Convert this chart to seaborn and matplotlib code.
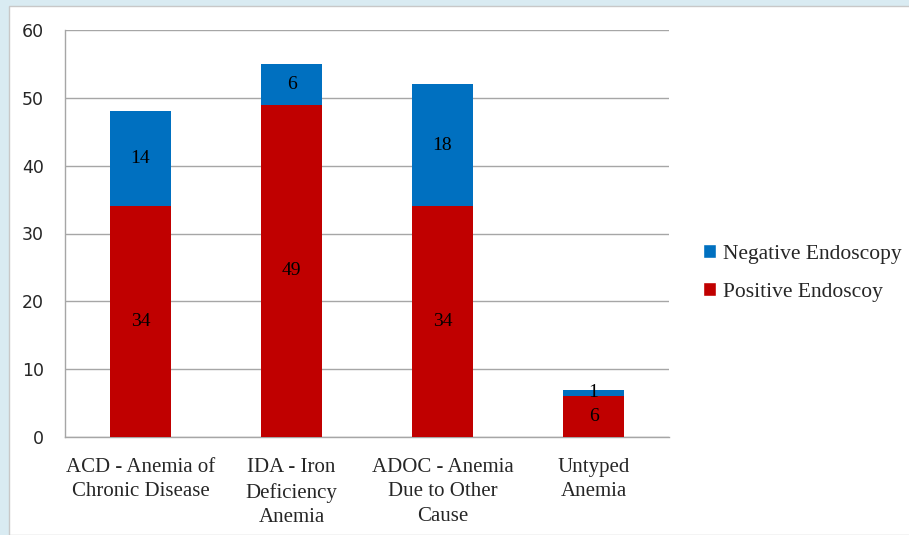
import numpy as np
import pandas as pd
import matplotlib
matplotlib.use("Agg")
import matplotlib.pyplot as plt
from matplotlib.patches import Rectangle, Patch
import seaborn as sns

categories = ["ACD - Anemia of\nChronic Disease", "IDA - Iron\nDeficiency\nAnemia",
              "ADOC - Anemia\nDue to Other\nCause", "Untyped\nAnemia"]
positive = [34, 49, 34, 6]
negative = [14, 6, 18, 1]

blue = "#0070c0"
red = "#c00000"
grid_col = "#a6a6a6"

df = pd.DataFrame({"cat": categories, "pos": positive, "neg": negative})
df["total"] = df["pos"] + df["neg"]

sns.set_style("white")
plt.rcParams["font.family"] = ["Liberation Serif", "DejaVu Serif"]

fig = plt.figure(figsize=(9.09, 5.35), dpi=100)
fig.patch.set_facecolor("#d9ebf2")
fig.patches.append(Rectangle((9 / 909, 0), 1, 1 - 6 / 535, transform=fig.transFigure,
                             facecolor="white", edgecolor="#c8c8c8", linewidth=1, zorder=-10))

ax = fig.add_axes([65 / 909, 1 - 437 / 535, 604 / 909, 407 / 535])
ax.set_facecolor("none")

sns.barplot(data=df, x="cat", y="total", color=blue, width=0.4, saturation=1,
            linewidth=0, ax=ax, zorder=3)
sns.barplot(data=df, x="cat", y="pos", color=red, width=0.4, saturation=1,
            linewidth=0, ax=ax, zorder=3)

for i, (p, n) in enumerate(zip(positive, negative)):
    ax.text(i, p / 2, str(p), ha="center", va="center", fontsize=14, color="black", zorder=4)
    ax.text(i, p + n / 2, str(n), ha="center", va="center", fontsize=14, color="black", zorder=4)

ax.set_ylim(0, 60)
ax.set_xlim(-0.5, 3.5)
ax.set_yticks(range(0, 61, 10))
ax.yaxis.grid(True, color=grid_col, linewidth=1, zorder=0)
ax.set_axisbelow(True)
ax.set_xlabel("")
ax.set_ylabel("")
for s in ["top", "right"]:
    ax.spines[s].set_visible(False)
for s in ["left", "bottom"]:
    ax.spines[s].set_color(grid_col)
    ax.spines[s].set_linewidth(1)

ax.set_xticks(range(len(categories)))
ax.set_xticklabels(categories, linespacing=1.4, fontsize=15)
ax.set_xticks(np.arange(-0.5, 4, 1), minor=True)
ax.tick_params(axis="x", which="major", length=0, pad=15)
ax.tick_params(axis="x", which="minor", length=4.5, color=grid_col, width=1)
ax.tick_params(axis="y", length=5, color=grid_col, width=1, labelsize=12.5, pad=10)
for t in ax.get_yticklabels():
    t.set_family(["DejaVu Sans"])

handles = [Patch(facecolor=blue, label="Negative Endoscopy"),
           Patch(facecolor=red, label="Positive Endoscoy")]
fig.legend(handles=handles, loc="center left", bbox_to_anchor=(684 / 909, 1 - 273 / 535),
           frameon=False, fontsize=15.5, handlelength=0.6, handleheight=0.6,
           handletextpad=0.3, labelspacing=0.85)

fig.savefig("out.png", dpi=100)
